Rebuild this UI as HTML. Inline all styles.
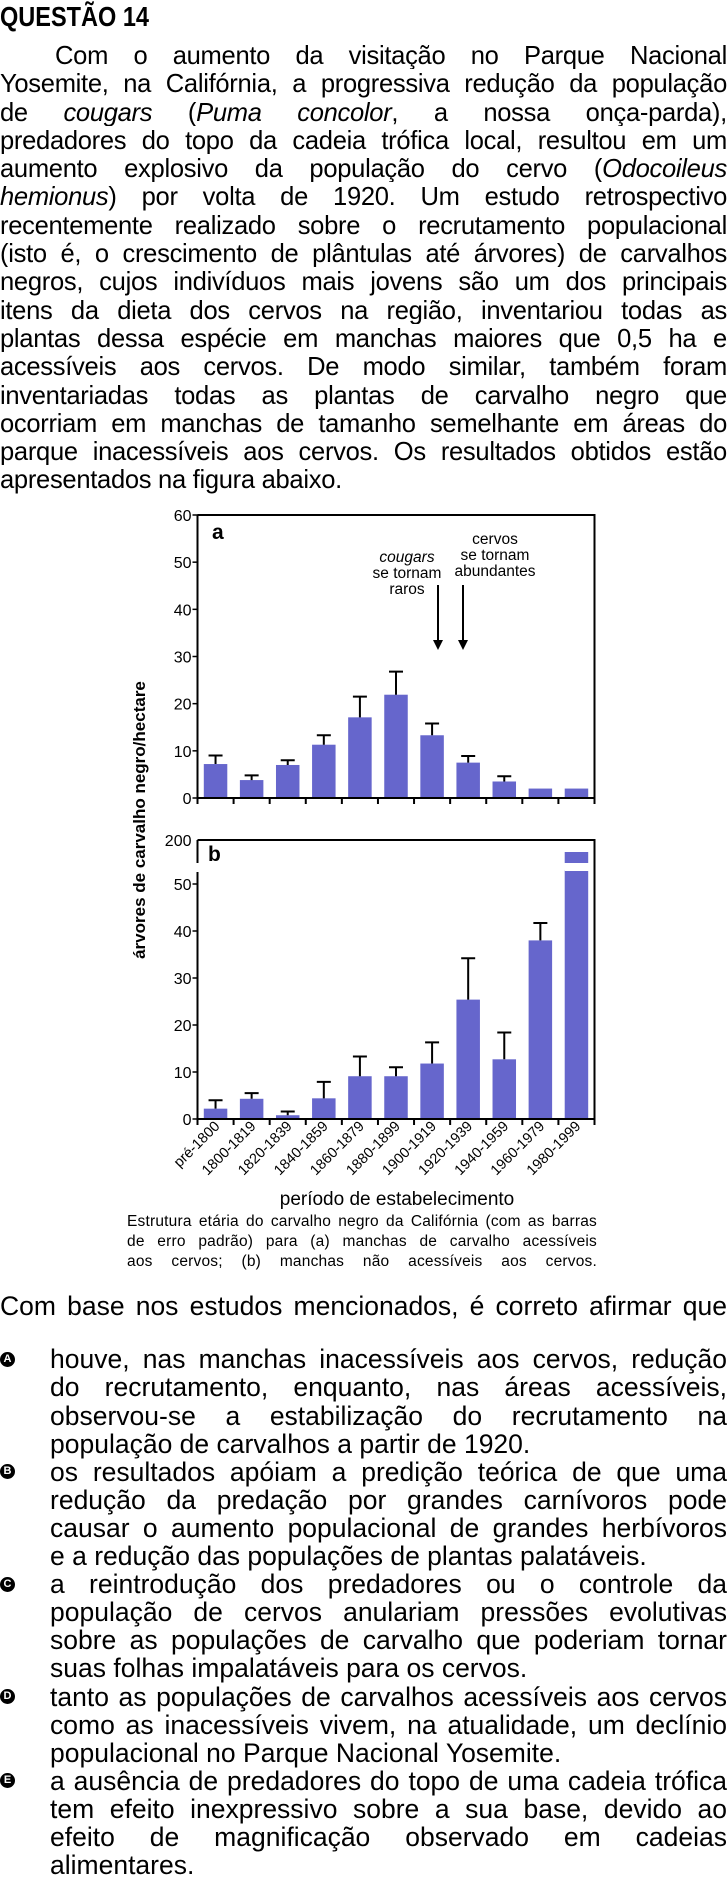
<!DOCTYPE html>
<html><head><meta charset="utf-8">
<style>
body{margin:0;width:727px;height:1902px;background:#fff;position:relative;overflow:hidden;font-family:"Liberation Sans",sans-serif;color:#000}
.cond{position:absolute;left:0;top:0;width:740px;transform:scaleX(0.9824);transform-origin:0 0;font-size:26px;line-height:28.3px;letter-spacing:-0.3px}
.cond div{text-align:justify;text-align-last:justify;height:28.3px;overflow:hidden}
.cond div.l{text-align-last:left}
.opt{position:absolute;left:50px;width:677px;font-size:26.5px;line-height:28.1px}
.opt div{text-align:justify;text-align-last:justify;height:28.1px;white-space:normal}
.opt div.l{text-align-last:left}
.bul{position:absolute;left:0px;width:15px;height:15px;border-radius:50%;background:#000;color:#fff;font-size:11px;font-weight:bold;text-align:center;line-height:15px}
.cap{position:absolute;left:127px;width:470px;font-size:15.5px;line-height:20px;letter-spacing:0.2px}
.cap div{text-align:justify;text-align-last:justify}
</style></head><body>
<div style="position:absolute;left:0;top:1px;font-size:28px;font-weight:bold;transform:scaleX(0.84);transform-origin:0 0;white-space:nowrap">QUESTÃO 14</div>

<div class="cond" style="top:41px">
<div style="padding-left:56px">Com o aumento da visitação no Parque Nacional</div>
<div>Yosemite, na Califórnia, a progressiva redução da população</div>
<div>de <i>cougars</i> (<i>Puma concolor</i>, a nossa onça-parda),</div>
<div>predadores do topo da cadeia trófica local, resultou em um</div>
<div>aumento explosivo da população do cervo (<i>Odocoileus</i></div>
<div><i>hemionus</i>) por volta de 1920. Um estudo retrospectivo</div>
<div>recentemente realizado sobre o recrutamento populacional</div>
<div>(isto é, o crescimento de plântulas até árvores) de carvalhos</div>
<div>negros, cujos indivíduos mais jovens são um dos principais</div>
<div>itens da dieta dos cervos na região, inventariou todas as</div>
<div>plantas dessa espécie em manchas maiores que 0,5 ha e</div>
<div>acessíveis aos cervos. De modo similar, também foram</div>
<div>inventariadas todas as plantas de carvalho negro que</div>
<div>ocorriam em manchas de tamanho semelhante em áreas do</div>
<div>parque inacessíveis aos cervos. Os resultados obtidos estão</div>
<div class="l">apresentados na figura abaixo.</div>
</div>

<svg id="chart" width="727" height="1902" style="position:absolute;left:0;top:0" font-family="Liberation Sans, sans-serif"></svg>

<div class="cap" style="top:1212px">
<div>Estrutura etária do carvalho negro da Califórnia (com as barras</div>
<div>de erro padrão) para (a) manchas de carvalho acessíveis</div>
<div>aos cervos; (b) manchas não acessíveis aos cervos.</div>
</div>

<div style="position:absolute;left:0;top:1292px;width:727px;font-size:26.5px;line-height:28.1px;text-align:justify;text-align-last:justify">Com base nos estudos mencionados, é correto afirmar que</div>

<div class="bul" style="top:1352px">A</div>
<div class="opt" style="top:1345.4px">
<div>houve, nas manchas inacessíveis aos cervos, redução</div>
<div>do recrutamento, enquanto, nas áreas acessíveis,</div>
<div>observou-se a estabilização do recrutamento na</div>
<div class="l">população de carvalhos a partir de 1920.</div>
</div>
<div class="bul" style="top:1464px">B</div>
<div class="opt" style="top:1457.8px">
<div>os resultados apóiam a predição teórica de que uma</div>
<div>redução da predação por grandes carnívoros pode</div>
<div>causar o aumento populacional de grandes herbívoros</div>
<div class="l">e a redução das populações de plantas palatáveis.</div>
</div>
<div class="bul" style="top:1577px">C</div>
<div class="opt" style="top:1570.2px">
<div>a reintrodução dos predadores ou o controle da</div>
<div>população de cervos anulariam pressões evolutivas</div>
<div>sobre as populações de carvalho que poderiam tornar</div>
<div class="l">suas folhas impalatáveis para os cervos.</div>
</div>
<div class="bul" style="top:1689px">D</div>
<div class="opt" style="top:1682.6px">
<div>tanto as populações de carvalhos acessíveis aos cervos</div>
<div>como as inacessíveis vivem, na atualidade, um declínio</div>
<div class="l">populacional no Parque Nacional Yosemite.</div>
</div>
<div class="bul" style="top:1773px">E</div>
<div class="opt" style="top:1766.9px">
<div>a ausência de predadores do topo de uma cadeia trófica</div>
<div>tem efeito inexpressivo sobre a sua base, devido ao</div>
<div>efeito de magnificação observado em cadeias</div>
<div class="l">alimentares.</div>
</div>

<script>
const categories=["pré-1800","1800-1819","1820-1839","1840-1859","1860-1879","1880-1899","1900-1919","1920-1939","1940-1959","1960-1979","1980-1999"];
const valuesA=[7.2,3.8,7,11.3,17.1,21.9,13.3,7.5,3.5,2,2];
const errTopA=[9,4.8,8,13.3,21.5,26.8,15.8,8.9,4.6,null,null];
const valuesB=[2.2,4.3,0.8,4.4,9.1,9.1,11.8,25.4,12.7,38,53];
const errTopB=[4,5.5,1.6,7.9,13.3,11,16.3,34.2,18.4,41.7,null];
const ticksA=[0,10,20,30,40,50,60];
const ticksB=[0,10,20,30,40,50];

const svg=document.getElementById('chart');
const NS='http://www.w3.org/2000/svg';
function mk(tag,attrs,parent){const e=document.createElementNS(NS,tag);for(const k in attrs)e.setAttribute(k,attrs[k]);(parent||svg).appendChild(e);return e;}
const X0=197.5,X1=594.5,BW=23.5;
const cw=(X1-X0)/categories.length;
function xc(i){return X0+cw*(i+0.5);}
function yA(v){return 798-v*(798-515)/60;}
function yB(v){return 1119-v*(1119-884)/50;}
const FILL='#6666cc';

function panel(name,vals,errs,ticks,y,top,bottom){
  const g=mk('g',{});
  
  
  vals.forEach((v,i)=>{
    let yv=y(Math.min(v,ticks[ticks.length-1]+3.5));
    const r=mk('rect',{x:xc(i)-BW/2,y:yv,width:BW,height:bottom-yv,fill:FILL},g);
    
    
    if(errs[i]!=null){
      const e=mk('path',{d:`M${xc(i)} ${y(v)}V${y(errs[i])}M${xc(i)-7} ${y(errs[i])}H${xc(i)+7}`,stroke:'#000','stroke-width':2,fill:'none'},g);
      
      
    }
  });
  ticks.forEach(t=>{
    mk('line',{x1:X0-5,x2:X0,y1:y(t),y2:y(t),stroke:'#000','stroke-width':1.5},g);
    const tx=mk('text',{x:X0-6,y:y(t)+6,'text-anchor':'end','font-size':16},g);
    tx.textContent=t;
    
    
  });
  for(let i=0;i<=categories.length;i++){
    const x=X0+cw*i;
    mk('line',{x1:x,x2:x,y1:bottom,y2:bottom+6,stroke:'#000','stroke-width':2},g);
  }
  mk('line',{x1:X0,x2:X1,y1:bottom,y2:bottom,stroke:'#000','stroke-width':2},g);
  mk('path',{d:`M${X0} ${top}H${X1}V${bottom}`,stroke:'#000','stroke-width':2,fill:'none'},g);
  return g;
}
const ga=panel('panel-a',valuesA,errTopA,ticksA,yA,515,798);
mk('line',{x1:X0,x2:X0,y1:515,y2:798,stroke:'#000','stroke-width':2},ga);
let t=mk('text',{x:212,y:539,'font-size':21,'font-weight':'bold'},ga);t.textContent='a';


[['cougars',557,true],['se tornam',573,false],['raros',589,false]].forEach(d=>{const e=mk('text',{x:407,y:d[1]+5,'text-anchor':'middle','font-size':15.5,'font-style':d[2]?'italic':'normal'},ga);e.textContent=d[0];

});
[['cervos',539],['se tornam',555],['abundantes',571]].forEach(d=>{const e=mk('text',{x:495,y:d[1]+5,'text-anchor':'middle','font-size':15.5},ga);e.textContent=d[0];

});
[438,463].forEach(x=>{
  const a=mk('path',{d:`M${x} 585V642`,stroke:'#000','stroke-width':2},ga);
  
  
  mk('path',{d:`M${x-5} 640L${x+5} 640L${x} 650Z`,fill:'#000'},ga);
});
const gb=panel('panel-b',valuesB,errTopB,ticksB,yB,840,1119);
mk('path',{d:`M${X0} 1119V872M${X0} 863V840`,stroke:'#000','stroke-width':2,fill:'none'},gb);
const last=categories.length-1;
mk('rect',{x:xc(last)-BW/2,y:852,width:BW,height:11,fill:FILL},gb);
mk('rect',{x:xc(last)-BW/2,y:863,width:BW+2,height:8,fill:'#fff'},gb);
t=mk('text',{x:X0-6,y:846,'text-anchor':'end','font-size':16},gb);t.textContent='200';


t=mk('text',{x:208,y:861,'font-size':21,'font-weight':'bold'},gb);t.textContent='b';


categories.forEach((c,i)=>{
  const x=xc(i)+5,y=1127;
  const e=mk('text',{x:x,y:y,'text-anchor':'end','font-size':14.5,transform:`rotate(-45 ${x} ${y})`});
  e.textContent=c;
  
  
});
t=mk('text',{x:397,y:1205,'text-anchor':'middle','font-size':19});t.textContent='período de estabelecimento';


t=mk('text',{x:145,y:820,'text-anchor':'middle','font-size':17,'font-weight':'bold',transform:'rotate(-90 145 820)'});t.textContent='árvores de carvalho negro/hectare';


</script>
</body></html>
